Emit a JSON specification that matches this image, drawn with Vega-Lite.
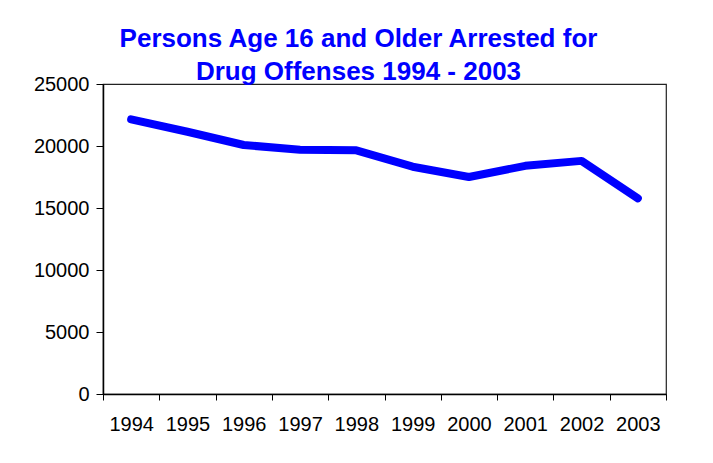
{
  "$schema": "https://vega.github.io/schema/vega-lite/v6.json",
  "width": 563,
  "height": 310,
  "autosize": {"type": "none"},
  "padding": {"left": 103, "top": 84, "right": 47, "bottom": 69},
  "background": "white",
  "title": {
    "text": ["Persons Age 16 and Older Arrested for", "Drug Offenses 1994 - 2003"],
    "font": "Liberation Sans",
    "fontSize": 26,
    "fontWeight": "bold",
    "color": "#0000FF",
    "lineHeight": 33,
    "anchor": "middle",
    "baseline": "alphabetic",
    "offset": -32,
    "dx": -26
  },
  "config": {
    "view": {"stroke": "#222222", "strokeWidth": 1.2},
    "axis": {
      "labelFont": "Liberation Sans",
      "labelFontSize": 20,
      "labelColor": "#000000",
      "domainColor": "#000000",
      "tickColor": "#000000",
      "grid": false,
      "title": null
    }
  },
  "data": {
    "values": [
      {"year": "1994", "arrests": 22150},
      {"year": "1995", "arrests": 21150},
      {"year": "1996", "arrests": 20080},
      {"year": "1997", "arrests": 19700},
      {"year": "1998", "arrests": 19650},
      {"year": "1999", "arrests": 18330},
      {"year": "2000", "arrests": 17500},
      {"year": "2001", "arrests": 18400},
      {"year": "2002", "arrests": 18800},
      {"year": "2003", "arrests": 15780}
    ]
  },
  "mark": {"type": "line", "color": "#0000FF", "strokeWidth": 8, "strokeCap": "round", "strokeJoin": "round"},
  "encoding": {
    "x": {
      "field": "year",
      "type": "ordinal",
      "scale": {"type": "band", "paddingInner": 0, "paddingOuter": 0},
      "axis": {"labelAngle": 0, "tickBand": "extent", "tickSize": 6, "labelPadding": 14, "domainWidth": 1.5}
    },
    "y": {
      "field": "arrests",
      "type": "quantitative",
      "scale": {"domain": [0, 25000]},
      "axis": {"values": [0, 5000, 10000, 15000, 20000, 25000], "format": "d", "tickSize": 7, "labelPadding": 7, "domainWidth": 1.5}
    }
  }
}
